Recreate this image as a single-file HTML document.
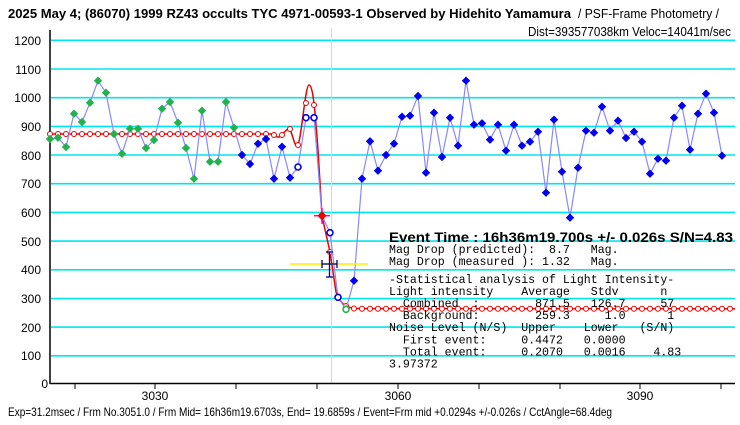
<!DOCTYPE html>
<html><head><meta charset="utf-8"><style>
html,body{margin:0;padding:0;background:#fff;}
svg{display:block;}
.t{font-family:"Liberation Sans",sans-serif;}
.m{font-family:"Liberation Mono",monospace;font-size:11.6px;white-space:pre;}
</style></head><body>
<svg width="740" height="425" viewBox="0 0 740 425" xmlns="http://www.w3.org/2000/svg" xml:space="preserve">
<defs>
<path id="dg" d="M0,-4.2 L4.2,0 L0,4.2 L-4.2,0Z" fill="#22b14c"/>
<path id="db" d="M0,-4.2 L4.2,0 L0,4.2 L-4.2,0Z" fill="#0000ee"/>
<circle id="ob" r="3" fill="#fff" stroke="#0000ee" stroke-width="1.6"/>
<circle id="og" r="3" fill="#fff" stroke="#22b14c" stroke-width="1.6"/>
<marker id="rc" markerWidth="8" markerHeight="8" refX="4" refY="4" markerUnits="userSpaceOnUse"><circle cx="4" cy="4" r="2.5" fill="#fff" stroke="#ee0000" stroke-width="1"/></marker>
</defs>
<rect width="740" height="425" fill="#fff"/>
<!-- title -->
<text class="t" x="8" y="18" font-size="13" font-weight="bold" textLength="563" lengthAdjust="spacingAndGlyphs">2025 May 4; (86070) 1999 RZ43 occults TYC 4971-00593-1 Observed by Hidehito Yamamura</text>
<text class="t" x="578" y="18" font-size="13" textLength="141" lengthAdjust="spacingAndGlyphs">/ PSF-Frame Photometry /</text>
<text class="t" x="528" y="36" font-size="13" textLength="203" lengthAdjust="spacingAndGlyphs">Dist=393577038km Veloc=14041m/sec</text>
<!-- grid -->
<g stroke="#00e5ee" stroke-width="1.6">
<line x1="51" x2="735" y1="40.3" y2="40.3"/><line x1="51" x2="735" y1="69" y2="69"/><line x1="51" x2="735" y1="97.7" y2="97.7"/><line x1="51" x2="735" y1="126.4" y2="126.4"/><line x1="51" x2="735" y1="155" y2="155"/><line x1="51" x2="735" y1="183.7" y2="183.7"/><line x1="51" x2="735" y1="212.4" y2="212.4"/><line x1="51" x2="735" y1="241.1" y2="241.1"/><line x1="51" x2="735" y1="269.8" y2="269.8"/><line x1="51" x2="735" y1="298.5" y2="298.5"/><line x1="51" x2="735" y1="327.1" y2="327.1"/><line x1="51" x2="735" y1="355.8" y2="355.8"/>
</g>
<line x1="331.5" x2="331.5" y1="28" y2="383" stroke="#ffee00" stroke-width="1"/>
<!-- axes -->
<line x1="50" x2="50" y1="30" y2="384" stroke="#000" stroke-width="1.5"/>
<line x1="50" x2="735" y1="383.5" y2="383.5" stroke="#000" stroke-width="1.5"/>
<g stroke="#000" stroke-width="1">
<line x1="75" x2="75" y1="383" y2="389"/><line x1="155" x2="155" y1="383" y2="389"/><line x1="236" x2="236" y1="383" y2="389"/><line x1="317" x2="317" y1="383" y2="389"/><line x1="398" x2="398" y1="383" y2="389"/><line x1="479" x2="479" y1="383" y2="389"/><line x1="560" x2="560" y1="383" y2="389"/><line x1="640" x2="640" y1="383" y2="389"/><line x1="721" x2="721" y1="383" y2="389"/>
</g>
<g class="t" font-size="12" text-anchor="end">
<text x="41" y="45">1200</text><text x="41" y="74">1100</text><text x="41" y="102">1000</text><text x="41" y="131">900</text><text x="41" y="160">800</text><text x="41" y="188">700</text><text x="41" y="217">600</text><text x="41" y="246">500</text><text x="41" y="274">400</text><text x="41" y="303">300</text><text x="41" y="332">200</text><text x="41" y="360">100</text><text x="48" y="388">0</text>
</g>
<g class="t" font-size="12" text-anchor="middle">
<text x="155" y="400">3030</text><text x="398" y="400">3060</text><text x="640" y="400">3090</text>
</g>
<!-- red model curve -->
<path d="M50,134 L270,134 C273,133 276,138 279,137 C283,136 286,128 289,129 C292,130 294,146 297,146 C301,146 305,85 309,85 C313,85 315,110 318,150 L322,216 L330,252 L336,292 C340,304 346,307 354,308.5 L735,308.7" fill="none" stroke="#ee0000" stroke-width="1.5"/>
<polyline fill="none" stroke="none" marker-start="url(#rc)" marker-mid="url(#rc)" marker-end="url(#rc)" points="50,134 58,134 66,134 74,134 82,134 90,134 98,134 106,134 114,134 122,134 130,134 138,134 146,134 154,134 162,134 170,134 178,134 186,134 194,134 202,134 210,134 218,134 226,134 234,134 242,134 250,134 258,134 266,134 274,135 282,135 290,129 298,145 306,103 314,105 322,216 330,252 338,297 346,306 354,308.5 362,308.7 370,308.7 378,308.7 386,308.7 394,308.7 402,308.7 410,308.7 418,308.7 426,308.7 434,308.7 442,308.7 450,308.7 458,308.7 466,308.7 474,308.7 482,308.7 490,308.7 498,308.7 506,308.7 514,308.7 522,308.7 530,308.7 538,308.7 546,308.7 554,308.7 562,308.7 570,308.7 578,308.7 586,308.7 594,308.7 602,308.7 610,308.7 618,308.7 626,308.7 634,308.7 642,308.7 650,308.7 658,308.7 666,308.7 674,308.7 682,308.7 690,308.7 698,308.7 706,308.7 714,308.7 722,308.7 730,308.7"/>
<!-- data line -->
<polyline fill="none" stroke="#8888ff" stroke-width="1.2" points="50,139 58,137.7 66,147 74,113.7 82,122 90,102.7 98,80.7 106,92.7 114,134 122,153.7 130,128.7 138,128.7 146,148 154,140 162,108.7 170,102 178,122.7 186,148 194,178.7 202,110.7 210,161.7 218,161.7 226,102 234,127.7 242,155 250,164 258,143.7 266,139 274,178.7 282,146.7 290,177.7 298,167 306,117.7 314,117.7 322,215.7 330,232.7 338,297.3 346,309.3 354,280.7 362,178.7 370,141.3 378,170.7 386,155 394,143.7 402,116.7 410,115.7 418,96 426,172.7 434,112.7 442,157 450,117.7 458,145.7 466,80.7 474,124.7 482,123.3 490,139.7 498,124.7 506,150.7 514,124.7 522,145.7 530,141.7 538,131.7 546,192.7 554,119.7 562,171.7 570,217.7 578,167.7 586,130.7 594,132.7 602,106.7 610,130.7 618,120.7 626,138 634,131.7 642,141.7 650,173.7 658,158.7 666,160.7 674,117.7 682,105.7 690,149.7 698,113.7 706,93.7 714,112.7 722,155.7"/>
<!-- green markers -->
<use href="#dg" x="50" y="139"/><use href="#dg" x="58" y="137.7"/><use href="#dg" x="66" y="147"/><use href="#dg" x="74" y="113.7"/><use href="#dg" x="82" y="122"/><use href="#dg" x="90" y="102.7"/><use href="#dg" x="98" y="80.7"/><use href="#dg" x="106" y="92.7"/><use href="#dg" x="114" y="134"/><use href="#dg" x="122" y="153.7"/><use href="#dg" x="130" y="128.7"/><use href="#dg" x="138" y="128.7"/><use href="#dg" x="146" y="148"/><use href="#dg" x="154" y="140"/><use href="#dg" x="162" y="108.7"/><use href="#dg" x="170" y="102"/><use href="#dg" x="178" y="122.7"/><use href="#dg" x="186" y="148"/><use href="#dg" x="194" y="178.7"/><use href="#dg" x="202" y="110.7"/><use href="#dg" x="210" y="161.7"/><use href="#dg" x="218" y="161.7"/><use href="#dg" x="226" y="102"/><use href="#dg" x="234" y="127.7"/>
<!-- blue markers -->
<use href="#db" x="242" y="155"/><use href="#db" x="250" y="164"/><use href="#db" x="258" y="143.7"/><use href="#db" x="266" y="139"/><use href="#db" x="274" y="178.7"/><use href="#db" x="282" y="146.7"/><use href="#db" x="290" y="177.7"/>
<use href="#ob" x="298" y="167"/><use href="#ob" x="306" y="117.7"/><use href="#ob" x="314" y="117.7"/><use href="#ob" x="330" y="232.7"/><use href="#ob" x="338" y="297.3"/><use href="#og" x="346" y="309.3"/>
<use href="#db" x="354" y="280.7"/><use href="#db" x="362" y="178.7"/><use href="#db" x="370" y="141.3"/><use href="#db" x="378" y="170.7"/><use href="#db" x="386" y="155"/><use href="#db" x="394" y="143.7"/><use href="#db" x="402" y="116.7"/><use href="#db" x="410" y="115.7"/><use href="#db" x="418" y="96"/><use href="#db" x="426" y="172.7"/><use href="#db" x="434" y="112.7"/><use href="#db" x="442" y="157"/><use href="#db" x="450" y="117.7"/><use href="#db" x="458" y="145.7"/><use href="#db" x="466" y="80.7"/><use href="#db" x="474" y="124.7"/><use href="#db" x="482" y="123.3"/><use href="#db" x="490" y="139.7"/><use href="#db" x="498" y="124.7"/><use href="#db" x="506" y="150.7"/><use href="#db" x="514" y="124.7"/><use href="#db" x="522" y="145.7"/><use href="#db" x="530" y="141.7"/><use href="#db" x="538" y="131.7"/><use href="#db" x="546" y="192.7"/><use href="#db" x="554" y="119.7"/><use href="#db" x="562" y="171.7"/><use href="#db" x="570" y="217.7"/><use href="#db" x="578" y="167.7"/><use href="#db" x="586" y="130.7"/><use href="#db" x="594" y="132.7"/><use href="#db" x="602" y="106.7"/><use href="#db" x="610" y="130.7"/><use href="#db" x="618" y="120.7"/><use href="#db" x="626" y="138"/><use href="#db" x="634" y="131.7"/><use href="#db" x="642" y="141.7"/><use href="#db" x="650" y="173.7"/><use href="#db" x="658" y="158.7"/><use href="#db" x="666" y="160.7"/><use href="#db" x="674" y="117.7"/><use href="#db" x="682" y="105.7"/><use href="#db" x="690" y="149.7"/><use href="#db" x="698" y="113.7"/><use href="#db" x="706" y="93.7"/><use href="#db" x="714" y="112.7"/><use href="#db" x="722" y="155.7"/>
<!-- event marker -->
<line x1="314" x2="330" y1="215.7" y2="215.7" stroke="#ff00cc" stroke-width="1.5"/>
<line x1="322" x2="322" y1="208" y2="224" stroke="#ff00cc" stroke-width="1.5"/>
<path d="M322,211 L326.5,215.7 L322,220.4 L317.5,215.7Z" fill="#ee0000"/>
<line x1="290" x2="368" y1="264" y2="264" stroke="#ffee00" stroke-width="1.5"/>
<g stroke="#000080" stroke-width="1.3">
<line x1="322" x2="337" y1="264" y2="264"/><line x1="322" x2="322" y1="260" y2="268"/><line x1="337" x2="337" y1="260" y2="268"/>
<line x1="329.5" x2="329.5" y1="252" y2="277"/><line x1="326" x2="333" y1="252" y2="252"/><line x1="326" x2="333" y1="277" y2="277"/>
</g>
<!-- stats text -->
<text class="t" x="389" y="242" font-size="14" font-weight="bold" textLength="344" lengthAdjust="spacingAndGlyphs">Event Time : 16h36m19.700s  +/- 0.026s  S/N=4.83</text>
<text class="m" x="389" y="253">Mag Drop (predicted):  8.7   Mag.</text>
<text class="m" x="389" y="265">Mag Drop (measured ): 1.32   Mag.</text>
<text class="m" x="389" y="283">-Statistical analysis of Light Intensity-</text>
<text class="m" x="389" y="295">Light intensity    Average   Stdv      n</text>
<text class="m" x="389" y="307">  Combined  :        871.5   126.7     57</text>
<text class="m" x="389" y="319">  Background:        259.3     1.0      1</text>
<text class="m" x="389" y="331">Noise Level (N/S)  Upper    Lower   (S/N)</text>
<text class="m" x="389" y="343.5">  First event:     0.4472   0.0000</text>
<text class="m" x="389" y="355.5">  Total event:     0.2070   0.0016    4.83</text>
<text class="m" x="389" y="367.5">3.97372</text>
<!-- footer -->
<text class="t" x="8" y="416" font-size="12" textLength="604" lengthAdjust="spacingAndGlyphs">Exp=31.2msec / Frm No.3051.0 / Frm Mid= 16h36m19.6703s,  End= 19.6859s / Event=Frm mid +0.0294s +/-0.026s / CctAngle=68.4deg</text>
</svg>
</body></html>
